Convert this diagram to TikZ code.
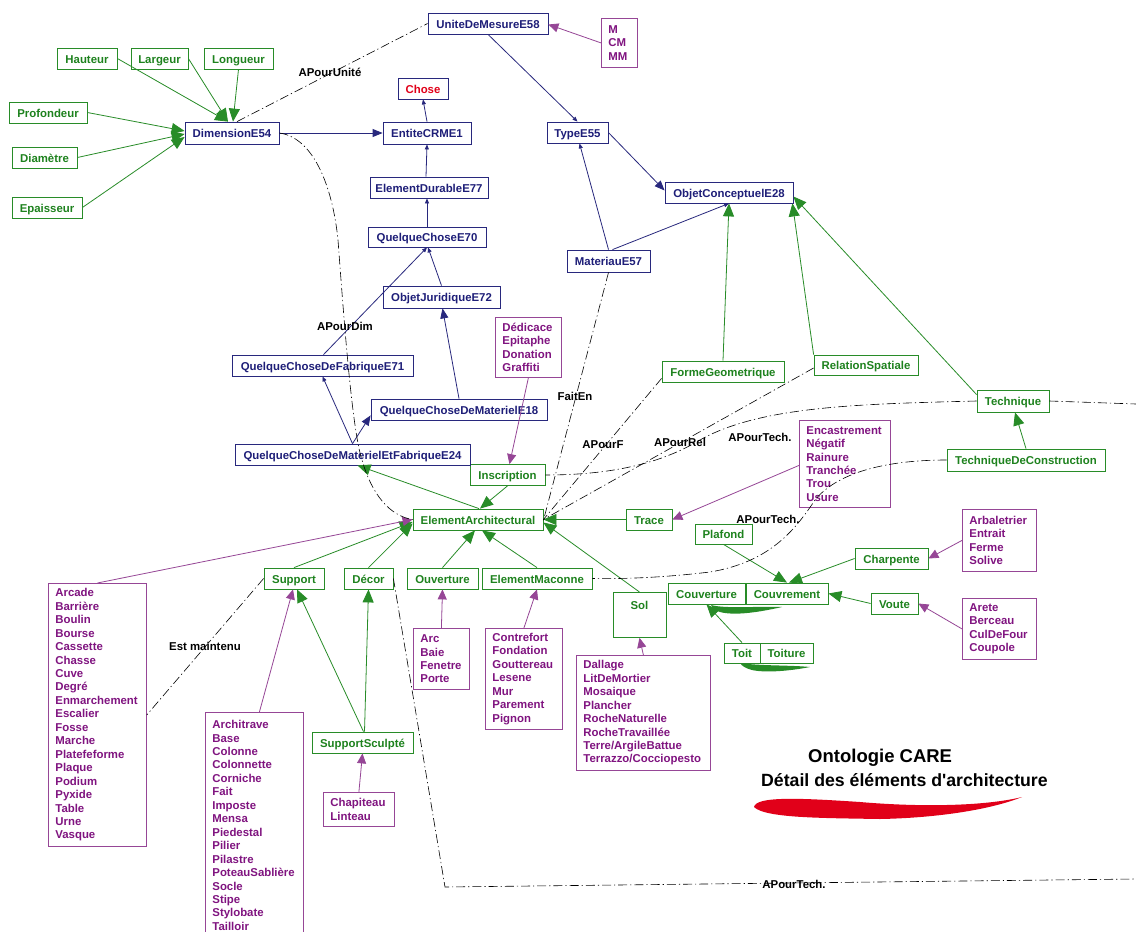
\documentclass[tikz,border=0pt]{standalone}
\usepackage{fontspec}
\setmainfont{Liberation Sans}
\usetikzlibrary{arrows.meta}
\definecolor{ntext}{RGB}{30,30,120}
\definecolor{nline}{RGB}{40,40,125}
\definecolor{gtext}{RGB}{30,130,30}
\definecolor{gline}{RGB}{40,140,40}
\definecolor{ptext}{RGB}{128,20,128}
\definecolor{pline}{RGB}{150,70,150}
\definecolor{rouge}{RGB}{225,0,25}
\begin{document}
\begin{tikzpicture}[x=1pt,y=-1pt,
  every node/.style={font=\fontsize{11.4pt}{13.45pt}\selectfont\bfseries},
  gb/.style={draw=gline,text=gtext,line width=0.8pt,minimum height=21pt,inner sep=0pt,text height=10pt,text depth=1pt},
  nb/.style={draw=nline,text=ntext,line width=0.8pt,minimum height=21pt,inner sep=0pt,text height=10pt,text depth=1pt},
  pl/.style={draw=pline,text=ptext,line width=0.8pt,anchor=north west,align=left,inner xsep=7pt,inner ysep=0pt},
  lab/.style={text=black,inner sep=0pt},
  ga/.style={draw=gline,line width=0.8pt,-{Triangle[length=13pt,width=11pt]}},
  na/.style={draw=nline,line width=0.8pt,-{Triangle[length=5pt,width=4pt]}},
  naL/.style={draw=nline,line width=0.8pt,-{Triangle[length=10pt,width=8pt]}},
  pa/.style={draw=pline,line width=0.8pt,-{Triangle[length=10pt,width=9pt]}},
  dd/.style={draw=black,line width=0.6pt,dash pattern=on 9pt off 3pt on 1.2pt off 3pt},
]
\useasboundingbox (0,0) rectangle (1136,932);
\fill[white] (0,0) rectangle (1136,932);

% ---- green boxes
\node[gb,minimum width=60pt] (hauteur) at (87,58.5) {Hauteur};
\node[gb,minimum width=57pt] (largeur) at (159.5,58.5) {Largeur};
\node[gb,minimum width=69pt] (longueur) at (238.5,58.5) {Longueur};
\node[gb,minimum width=78pt] (profondeur) at (48,112.5) {Profondeur};
\node[gb,minimum width=65pt] (diametre) at (44.5,157.5) {Diamètre};
\node[gb,minimum width=70pt] (epaisseur) at (47,207.5) {Epaisseur};
\node[gb,minimum width=122pt] (formegeo) at (723,371.5) {FormeGeometrique};
\node[gb,minimum width=104pt,minimum height=20pt] (relspat) at (866,365) {RelationSpatiale};
\node[gb,minimum width=72pt,minimum height=22pt] (technique) at (1013,401) {Technique};
\node[gb,minimum width=158pt,minimum height=22pt] (techcons) at (1026,460) {TechniqueDeConstruction};
\node[gb,minimum width=75pt] (inscription) at (507.5,475) {Inscription};
\node[gb,minimum width=130pt] (elemarch) at (478,519.5) {ElementArchitectural};
\node[gb,minimum width=46pt] (trace) at (649,519.5) {Trace};
\node[gb,minimum width=60pt] (support) at (294,578.5) {Support};
\node[gb,minimum width=49pt] (decor) at (368.5,578.5) {Décor};
\node[gb,minimum width=71pt] (ouverture) at (442.5,578.5) {Ouverture};
\node[gb,minimum width=110pt] (elemmac) at (537,578.5) {ElementMaconne};
\node[gb,minimum width=53pt,minimum height=45pt,text height=13pt,text depth=24pt,anchor=north] (sol) at (639.5,592) {Sol};
\node[gb,minimum width=57pt,minimum height=20pt] (plafond) at (723.5,534) {Plafond};
\node[gb,minimum width=77pt] (couverture) at (706.5,593.5) {Couverture};
\node[gb,minimum width=82pt] (couvrement) at (787,593.5) {Couvrement};
\node[gb,minimum width=73pt] (charpente) at (891.5,558.5) {Charpente};
\node[gb,minimum width=47pt] (voute) at (894.5,603.5) {Voute};
\node[gb,minimum width=36pt,minimum height=20pt] (toit) at (742,653) {Toit};
\node[gb,minimum width=53pt,minimum height=20pt] (toiture) at (786.5,653) {Toiture};
\node[gb,minimum width=101pt] (supsculpt) at (362.5,742.5) {SupportSculpté};

% ---- navy boxes
\node[nb,minimum width=120pt] (unite) at (488,23.5) {UniteDeMesureE58};
\node[nb,minimum width=94pt,minimum height=22pt] (dimension) at (232,133) {DimensionE54};
\node[nb,minimum width=50pt,text=rouge] (chose) at (423,88.5) {Chose};
\node[nb,minimum width=88pt,minimum height=22pt] (entite) at (427,133) {EntiteCRME1};
\node[nb,minimum width=118pt] (elemdur) at (429,187.5) {ElementDurableE77};
\node[nb,minimum width=118pt,minimum height=20pt] (qc70) at (427,237) {QuelqueChoseE70};
\node[nb,minimum width=117pt,minimum height=22pt] (objjur) at (441.5,297) {ObjetJuridiqueE72};
\node[nb,minimum width=181pt] (qcfab) at (322.5,365.5) {QuelqueChoseDeFabriqueE71};
\node[nb,minimum width=176pt] (qcmat) at (459,409.5) {QuelqueChoseDeMaterielE18};
\node[nb,minimum width=235pt] (qcmatfab) at (352.5,454.5) {QuelqueChoseDeMaterielEtFabriqueE24};
\node[nb,minimum width=61pt] (type) at (577.5,132.5) {TypeE55};
\node[nb,minimum width=128pt] (objconc) at (729,192.5) {ObjetConceptuelE28};
\node[nb,minimum width=83pt,minimum height=22pt] (materiau) at (608.5,261) {MateriauE57};

% ---- purple lists
\node[pl,text width=22pt,minimum height=49pt] (mcm) at (601,18) {M\\CM\\MM};
\node[pl,text width=52pt,minimum height=60pt] (dedicace) at (495,317) {Dédicace\\Epitaphe\\Donation\\Graffiti};
\node[pl,text width=77pt,minimum height=87pt] (encastrement) at (799,420) {Encastrement\\Négatif\\Rainure\\Tranchée\\Trou\\Usure};
\node[pl,text width=60pt,minimum height=62pt] (arbaletrier) at (962,509) {Arbaletrier\\Entrait\\Ferme\\Solive};
\node[pl,text width=60pt,minimum height=61pt] (arete) at (962,598) {Arete\\Berceau\\CulDeFour\\Coupole};
\node[pl,text width=84pt,minimum height=263pt] (arcade) at (48,583) {Arcade\\Barrière\\Boulin\\Bourse\\Cassette\\Chasse\\Cuve\\Degré\\Enmarchement\\Escalier\\Fosse\\Marche\\Platefeforme\\Plaque\\Podium\\Pyxide\\Table\\Urne\\Vasque};
\node[pl,text width=42pt,minimum height=61pt] (arc) at (413,628) {Arc\\Baie\\Fenetre\\Porte};
\node[pl,text width=63pt,minimum height=101pt] (contrefort) at (485,628) {Contrefort\\Fondation\\Gouttereau\\Lesene\\Mur\\Parement\\Pignon};
\node[pl,text width=120pt,minimum height=115pt] (dallage) at (576,655) {Dallage\\LitDeMortier\\Mosaique\\Plancher\\RocheNaturelle\\RocheTravaillée\\Terre/ArgileBattue\\Terrazzo/Cocciopesto};
\node[pl,text width=84pt,minimum height=226pt] (architrave) at (205,712) {Architrave\\Base\\Colonne\\Colonnette\\Corniche\\Fait\\Imposte\\Mensa\\Piedestal\\Pilier\\Pilastre\\PoteauSablière\\Socle\\Stipe\\Stylobate\\Tailloir};
\node[pl,text width=57pt,minimum height=34pt] (chapiteau) at (323,792) {Chapiteau\\Linteau};

% ---- green arrows
\draw[ga] (hauteur.east) -- ([xshift=-4pt]dimension.north);
\draw[ga] (largeur.east) -- ([xshift=-4pt]dimension.north);
\draw[ga] (longueur.south) -- ([xshift=1pt]dimension.north);
\draw[ga] (profondeur.east) -- ([yshift=2pt]dimension.west);
\draw[ga] (diametre.east) -- ([yshift=-1pt]dimension.west);
\draw[ga] (epaisseur.east) -- ([yshift=-4pt]dimension.west);
\draw[ga] (formegeo.north) -- (objconc.south);
\draw[ga] (relspat.north west) -- ([xshift=-1pt]objconc.south east);
\draw[ga] ([yshift=-5pt]technique.north west) -- ([yshift=-4pt]objconc.east);
\draw[ga] (techcons.north) -- ([xshift=2pt]technique.south);
\draw[ga] (inscription.south) -- ([xshift=2pt]elemarch.north);
\draw[ga] ([xshift=1pt]elemarch.north) -- ([xshift=5pt]qcmatfab.south);
\draw[ga] (trace.west) -- (elemarch.east);
\draw[ga] (sol.north) -- ([yshift=-3pt]elemarch.east);
\draw[ga] (support.north) -- ([yshift=-2.5pt]elemarch.west);
\draw[ga] (decor.north) -- ([yshift=-4pt]elemarch.west);
\draw[ga] (ouverture.north) -- ([xshift=-3pt]elemarch.south);
\draw[ga] (elemmac.north) -- ([xshift=4pt]elemarch.south);
\draw[ga] ([xshift=1pt]supsculpt.north) -- ([xshift=3pt]support.south);
\draw[ga] ([xshift=2pt]supsculpt.north) -- (decor.south);
\draw[ga] (plafond.south) -- (couvrement.north);
\draw[ga] (charpente.west) -- ([xshift=2pt]couvrement.north);
\draw[ga] (voute.west) -- (couvrement.east);
\draw[ga] (toit.north) -- (couverture.south);

% ---- navy arrows
\draw[naL] (dimension.east) -- (entite.west);
\draw[na] (entite.north) -- (chose.south);
\draw[na] ([xshift=-3pt]elemdur.north) -- (entite.south);
\draw[na] (qc70.north) -- ([xshift=-2pt]elemdur.south);
\draw[na] (objjur.north) -- ([xshift=1pt]qc70.south);
\draw[na] ([xshift=1pt]qcfab.north) -- (qc70.south);
\draw[naL] (qcmat.north) -- ([xshift=1pt]objjur.south);
\draw[na] (qcmatfab.north) -- (qcfab.south);
\draw[naL] (qcmatfab.north) -- ([yshift=5pt]qcmat.south west);
\draw[na] (unite.south) -- (type.north);
\draw[naL] (type.east) -- ([yshift=2pt]objconc.west);
\draw[na] (materiau.north) -- ([xshift=2pt]type.south);
\draw[na] ([xshift=4pt]materiau.north) -- (objconc.south);

% ---- purple arrows
\draw[pa] (mcm.west) -- ([yshift=-1pt]unite.east);
\draw[pa] (dedicace.south) -- ([xshift=2pt]inscription.north);
\draw[pa] ([yshift=-1.5pt]encastrement.west) -- (trace.east);
\draw[pa] (arbaletrier.west) -- (charpente.east);
\draw[pa] (arete.west) -- (voute.east);
\draw[pa] (arcade.north) -- (elemarch.west);
\draw[pa] (arc.north) -- (ouverture.south);
\draw[pa] (contrefort.north) -- (elemmac.south);
\draw[pa] (dallage.north) -- (sol.south);
\draw[pa] ([xshift=5pt]architrave.north) -- ([xshift=-1pt]support.south);
\draw[pa] (chapiteau.north) -- (supsculpt.south);

% ---- dash-dot relations
\coordinate (rt) at (1136,404);
\coordinate (bc) at (445,887);
\coordinate (br) at (1136,879);
\draw[dd] ([xshift=5pt]dimension.north) -- (unite.west);
\draw[dd] (dimension.east) .. controls (315,138) and (333,190) .. (338,240)
  .. controls (344,320) and (352,430) .. (362,460)
  .. controls (372,495) and (390,516) .. (elemarch.west);
\draw[dd] (materiau.south) -- ([yshift=-1pt]elemarch.east);
\draw[dd] ([yshift=4pt]formegeo.south west) -- (elemarch.east);
\draw[dd] ([yshift=-3pt]relspat.west) -- (elemarch.east);
\draw[dd] (technique.west) .. controls (860,404) and (760,406) .. (700,440)
  .. controls (660,464) and (610,475) .. (inscription.east);
\draw[dd] (technique.east) -- (rt);
\draw[dd] (techcons.west) .. controls (880,460) and (835,475) .. (815,500)
  .. controls (795,530) and (770,562) .. (710,572)
  .. controls (660,578) and (620,579) .. (elemmac.east);
\draw[dd] (support.west) -- (arcade.east);
\draw[dd] (decor.east) -- (bc) -- (br);

% ---- relation labels
\node[lab] (lUnite) at (330,72) {APourUnité};
\node[lab] (lDim) at (345,326) {APourDim};
\node[lab] (lFait) at (575,396) {FaitEn};
\node[lab] (lF) at (603,445) {APourF};
\node[lab] (lRel) at (680,442) {APourRel};
\node[lab] (lTechA) at (760,437) {APourTech.};
\node[lab] (lTechB) at (768,519) {APourTech.};
\node[lab] (lEst) at (205,646) {Est maintenu};
\node[lab] (lTechC) at (794,884) {APourTech.};

% ---- green brush strokes
\fill[gline] (711,605) .. controls (725,609) and (760,606) .. (782,607)
  .. controls (760,612) and (735,616) .. (720,612) .. controls (714,610) and (712,608) .. cycle;
\fill[gline] (740,663) .. controls (760,666) and (790,665) .. (810,667)
  .. controls (790,671) and (765,673) .. (752,670) .. controls (745,668) and (742,666) .. cycle;

% ---- title
\node[lab,anchor=west,font=\fontsize{18.5pt}{21pt}\selectfont\bfseries] (title1) at (808,758) {Ontologie CARE};
\node[lab,anchor=west,font=\fontsize{17.7pt}{21pt}\selectfont\bfseries] (title2) at (761,780) {Détail des éléments d\textquotesingle architecture};
\fill[rouge] (754,807) .. controls (756,796) and (800,798) .. (860,802)
  .. controls (930,808) and (990,805) .. (1022,797)
  .. controls (990,810) and (935,818) .. (880,819)
  .. controls (820,818) and (765,818) .. cycle;
\end{tikzpicture}
\end{document}
